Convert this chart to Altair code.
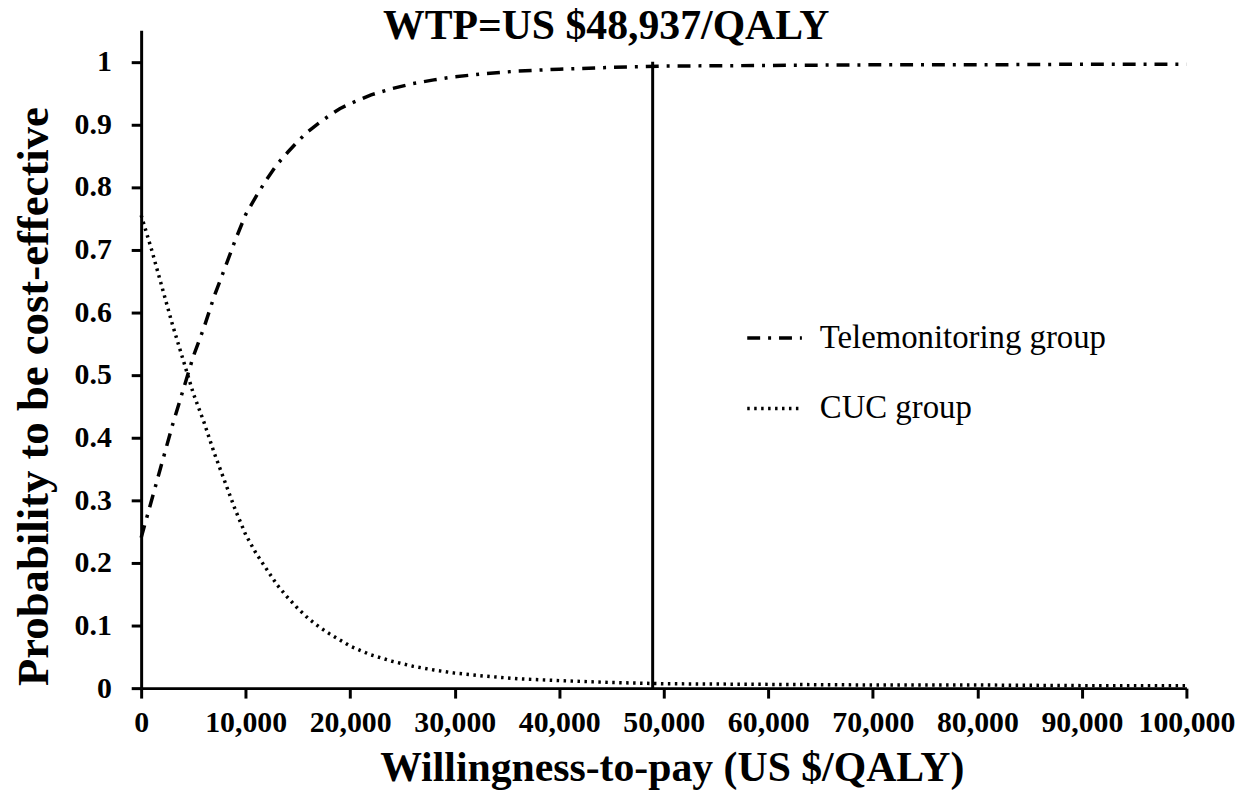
import altair as alt
import pandas as pd

# Willingness-to-pay grid (US $/QALY)
wtp = [0, 1000, 2000, 3000, 4000, 5000, 6000, 7000, 8000, 9000, 10000,
       11000, 12000, 13000, 14000, 15000, 16000, 17000, 18000, 19000, 20000,
       22000, 24000, 26000, 28000, 30000, 33000, 36000, 40000, 45000, 50000,
       60000, 70000, 80000, 90000, 100000]

telemonitoring = [0.24, 0.30, 0.36, 0.42, 0.475, 0.53, 0.575, 0.626, 0.67, 0.715, 0.756,
                  0.785, 0.812, 0.836, 0.855, 0.873, 0.889, 0.902, 0.914, 0.925, 0.933,
                  0.947, 0.957, 0.965, 0.971, 0.976, 0.981, 0.985, 0.988, 0.991, 0.993,
                  0.994, 0.995, 0.995, 0.996, 0.996]

cuc = [0.755, 0.70, 0.64, 0.58, 0.525, 0.47, 0.425, 0.375, 0.33, 0.285, 0.245,
       0.215, 0.19, 0.165, 0.145, 0.127, 0.111, 0.098, 0.087, 0.077, 0.067,
       0.053, 0.043, 0.035, 0.029, 0.024, 0.019, 0.015, 0.012, 0.009, 0.007,
       0.006, 0.005, 0.005, 0.004, 0.004]

groups = ["Telemonitoring group", "CUC group"]
threshold = 48937
x_ticks = list(range(0, 100001, 10000))
y_ticks = [i / 10 for i in range(11)]

df = pd.DataFrame({
    "wtp": wtp + wtp,
    "prob": telemonitoring + cuc,
    "group": [groups[0]] * len(wtp) + [groups[1]] * len(wtp),
})
rule_df = pd.DataFrame({"wtp": [threshold], "lo": [0.0], "hi": [1.0]})

FONT = "Liberation Serif"

x_enc = alt.X("wtp:Q",
              scale=alt.Scale(domain=[0, 100000], nice=False, zero=False),
              axis=alt.Axis(values=x_ticks, format=",d",
                            title="Willingness-to-pay (US $/QALY)",
                            titleX=534, titleY=93, titleBaseline="alphabetic",
                            titleAlign="center", titleFontSize=42,
                            labelPadding=10))
y_enc = alt.Y("prob:Q",
              scale=alt.Scale(domain=[0, 1.05], nice=False),
              axis=alt.Axis(values=y_ticks, format=".1~f",
                            title="Probability to be cost-effective",
                            titleX=-94, titleY=368, titleAngle=-90,
                            titleBaseline="alphabetic", titleAlign="center",
                            titleFontSize=45, labelPadding=20))

lines = alt.Chart(df).mark_line(strokeWidth=3.5, color="black", strokeCap="butt").encode(
    x=x_enc,
    y=y_enc,
    strokeDash=alt.StrokeDash(
        "group:N",
        scale=alt.Scale(domain=groups, range=[[13, 8, 3, 8], [2.5, 4.5]]),
        legend=alt.Legend(
            title=None, orient="none", legendX=608, legendY=280,
            symbolType="stroke", symbolSize=3025, symbolStrokeWidth=3.5,
            symbolStrokeColor="black", labelFont=FONT, labelFontSize=33,
            labelColor="black", labelOffset=16, rowPadding=24,
            labelFontWeight="normal", labelLimit=500),
    ),
    detail="group:N",
    order="wtp:Q",
)

rule = alt.Chart(rule_df).mark_rule(color="black", strokeWidth=3).encode(
    x="wtp:Q", y="lo:Q", y2="hi:Q")

chart = alt.layer(lines, rule).properties(
    width=1052,
    height=662,
    background="white",
    autosize=alt.AutoSizeParams(type="none"),
    padding={"left": 134, "top": 20, "right": 64, "bottom": 100},
    title=alt.Title("WTP=US $48,937/QALY", font=FONT, fontSize=42, fontWeight="bold",
                    color="black", anchor="middle", dx=-58, dy=22),
).configure_view(stroke=None).configure_axis(
    domainColor="black", domainWidth=3, tickColor="black", tickWidth=3, tickSize=10,
    grid=False, labelFont=FONT, labelFontSize=30, labelFontWeight="bold", labelColor="black",
    titleFont=FONT, titleFontWeight="bold", titleColor="black",
    labelFlush=False, labelOverlap=False,
).configure_legend(labelFont=FONT)

chart.save("out.html", embed_options={"renderer": "svg", "actions": False})
